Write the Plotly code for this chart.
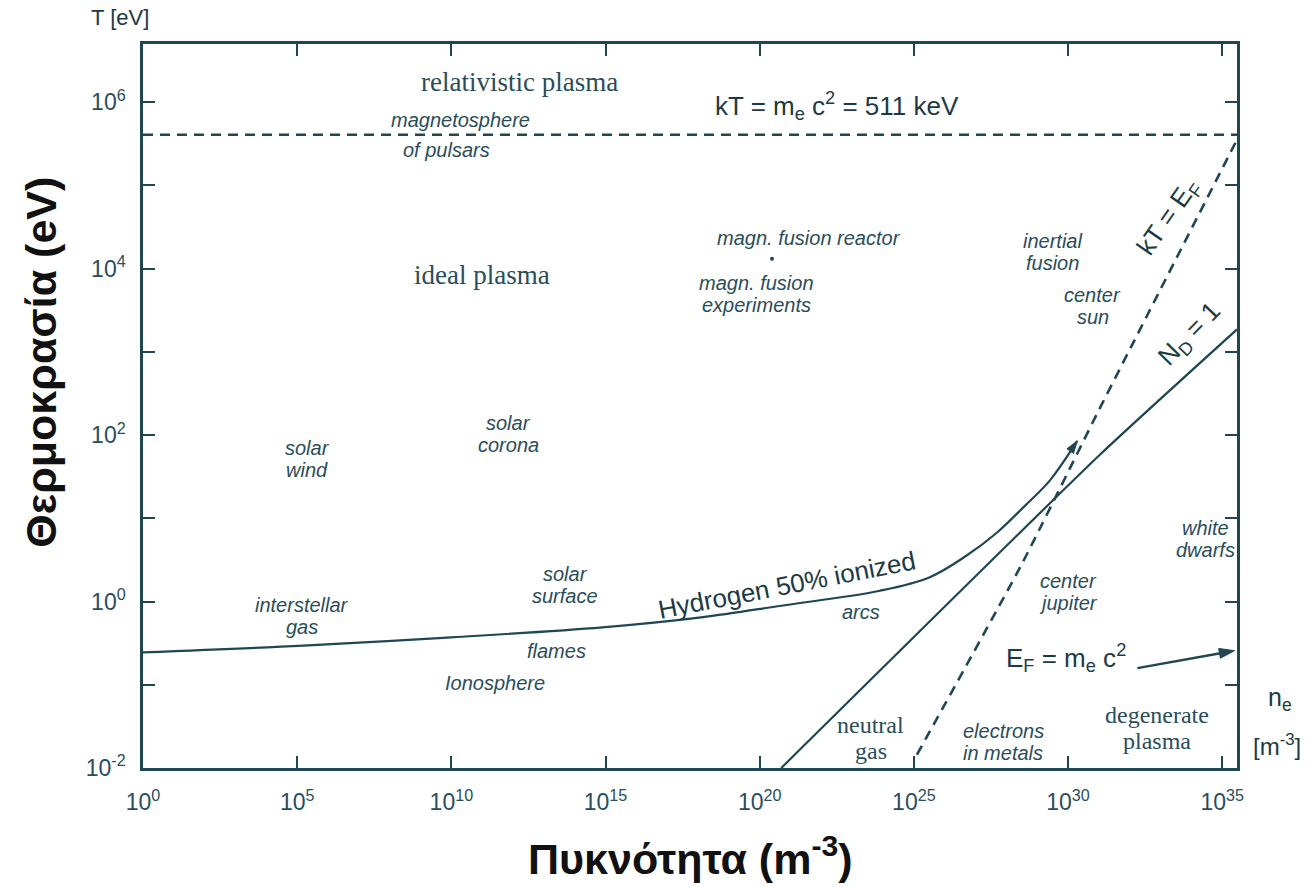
import plotly.graph_objects as go

# ---------------- data (log10 values) ----------------
# Hydrogen 50% ionized curve
h_log_n = [0.0, 5.2, 10.0, 14.9, 18.1, 20.7, 23.9, 25.5, 26.7, 27.7, 28.6, 29.4, 30.3]
h_log_T = [-0.61, -0.53, -0.43, -0.31, -0.19, -0.05, 0.13, 0.29, 0.55, 0.83, 1.15, 1.45, 1.93]

# N_D = 1 line
nd_log_n = [20.7, 31.05, 35.48]
nd_log_T = [-2.0, 1.77, 3.27]

# kT = E_F line (dashed)
ef_log_n = [25.1, 28.5, 31.0, 32.1, 35.48]
ef_log_T = [-1.84, 0.45, 2.3, 3.1, 5.55]

# kT = m_e c^2 (dashed horizontal)
rel_log_T = 5.61
x_log_range = [0.0, 35.48]
y_log_range = [-2.0, 6.7]

# E_F = m_e c^2 arrow (tail -> head)
arrow_log_n = [32.25, 35.4]
arrow_log_T = [-0.80, -0.59]

# magnetic fusion reactor point
mfr_log_n = 20.4
mfr_log_T = 4.12

# tick labels
x_tick_exp = [0, 5, 10, 15, 20, 25, 30, 35]
y_tick_exp = [-2, 0, 2, 4, 6]
y_minor_exp = [-1, 1, 3, 5]

# region labels: (lines, log n, log T, style, angle)
labels = [
    (["relativistic plasma"], 12.2, 6.24, "serif", 0),
    (["kT = m<sub>e</sub> c<sup>2</sup> = 511 keV"], 22.5, 5.96, "sans", 0),
    (["<i>magnetosphere</i>"], 10.3, 5.79, "ital", 0),
    (["<i>of pulsars</i>"], 9.85, 5.43, "ital", 0),
    (["ideal plasma"], 11.0, 3.93, "serif", 0),
    (["<i>magn. fusion reactor</i>"], 21.6, 4.37, "ital", 0),
    (["<i>magn. fusion</i>", "<i>experiments</i>"], 19.9, 3.69, "ital", 0),
    (["<i>inertial</i>", "<i>fusion</i>"], 29.5, 4.2, "ital", 0),
    (["<i>center</i>", "<i>sun</i>"], 30.8, 3.55, "ital", 0),
    (["<i>solar</i>", "<i>wind</i>"], 5.33, 1.71, "ital", 0),
    (["<i>solar</i>", "<i>corona</i>"], 11.86, 2.01, "ital", 0),
    (["<i>interstellar</i>", "<i>gas</i>"], 5.16, -0.17, "ital", 0),
    (["<i>solar</i>", "<i>surface</i>"], 13.7, 0.2, "ital", 0),
    (["<i>flames</i>"], 13.4, -0.59, "ital", 0),
    (["<i>Ionosphere</i>"], 11.4, -0.98, "ital", 0),
    (["<i>arcs</i>"], 23.3, -0.13, "ital", 0),
    (["neutral", "gas"], 23.6, -1.64, "serif2", 0),
    (["<i>electrons</i>", "<i>in metals</i>"], 27.9, -1.69, "ital", 0),
    (["<i>center</i>", "<i>jupiter</i>"], 30.0, 0.11, "ital", 0),
    (["<i>white</i>", "<i>dwarfs</i>"], 34.45, 0.75, "ital", 0),
    (["degenerate", "plasma"], 32.9, -1.52, "serif2", 0),
    (["Hydrogen 50% ionized"], 20.9, 0.2, "sans", -11),
    (["E<sub>F</sub> = m<sub>e</sub> c<sup>2</sup>"], 29.95, -0.68, "sans", 0),
    (["kT = E<sub>F</sub>"], 33.25, 4.62, "sans", -55),
    (["N<sub>D</sub> = 1"], 33.96, 3.21, "sans", -46),
]

LINE = "#1f4653"
TXT = "#2a4d5b"
DARK = "#1c3a45"
SANS = "Liberation Sans, Arial, sans-serif"
SERIF = "Liberation Serif, Times New Roman, serif"


def p10(v):
    return 10.0 ** float(v)


fig = go.Figure()

n_h = len(h_log_n)
fig.add_trace(go.Scatter(x=[p10(v) for v in h_log_n], y=[p10(v) for v in h_log_T],
                         mode="lines+markers",
                         line=dict(color=LINE, width=2.2, shape="spline", smoothing=1.0),
                         marker=dict(symbol="arrow", angleref="previous", color=LINE, opacity=1,
                                     line=dict(color=LINE, width=1),
                                     size=[0] * (n_h - 1) + [13]),
                         showlegend=False, hoverinfo="skip"))
fig.add_trace(go.Scatter(x=[p10(v) for v in nd_log_n], y=[p10(v) for v in nd_log_T],
                         mode="lines", line=dict(color=LINE, width=2.2, shape="spline", smoothing=0.5),
                         showlegend=False, hoverinfo="skip"))
fig.add_trace(go.Scatter(x=[p10(v) for v in ef_log_n], y=[p10(v) for v in ef_log_T],
                         mode="lines", line=dict(color=LINE, width=2.6, dash="10px,7px", shape="spline", smoothing=0.5),
                         showlegend=False, hoverinfo="skip"))
fig.add_trace(go.Scatter(x=[p10(x_log_range[0]), p10(x_log_range[1])], y=[p10(rel_log_T), p10(rel_log_T)],
                         mode="lines", line=dict(color=LINE, width=2.6, dash="10px,7px"),
                         showlegend=False, hoverinfo="skip"))
fig.add_trace(go.Scatter(x=[p10(v) for v in arrow_log_n], y=[p10(v) for v in arrow_log_T],
                         mode="lines+markers", line=dict(color=LINE, width=2.4),
                         marker=dict(symbol="arrow", angleref="previous", color=LINE, opacity=1,
                                     line=dict(color=LINE, width=1), size=[0, 16]),
                         showlegend=False, hoverinfo="skip"))
fig.add_trace(go.Scatter(x=[p10(mfr_log_n)], y=[p10(mfr_log_T)], mode="markers",
                         marker=dict(color=LINE, size=4), showlegend=False, hoverinfo="skip"))

fonts = {
    "serif": (dict(family=SERIF, size=27, color=TXT), 27),
    "serif2": (dict(family=SERIF, size=24, color=TXT), 26),
    "sans": (dict(family=SANS, size=26, color=DARK), 28),
    "ital": (dict(family=SANS, size=20, color=TXT), 22),
}
for lines, lx, ly, style, ang in labels:
    f, lh = fonts[style]
    n = len(lines)
    for i, t in enumerate(lines):
        fig.add_annotation(x=lx, y=ly, xref="x", yref="y", text=t, showarrow=False,
                           font=f, textangle=ang, align="center",
                           xanchor="center", yanchor="middle",
                           yshift=((n - 1) / 2.0 - i) * lh)

# axis titles and outside labels
fig.add_annotation(x=0.5, y=-0.122, xref="paper", yref="paper",
                   text="<b>Πυκνότητα (m<sup>-3</sup>)</b>", showarrow=False,
                   xanchor="center", yanchor="middle",
                   font=dict(family=SANS, size=43, color="#111111"))
fig.add_annotation(x=-0.094, y=0.56, xref="paper", yref="paper",
                   text="<b>Θερμοκρασία (eV)</b>", showarrow=False, textangle=-90,
                   xanchor="center", yanchor="middle",
                   font=dict(family=SANS, size=43, color="#111111"))
fig.add_annotation(x=-0.021, y=1.037, xref="paper", yref="paper", text="T [eV]", showarrow=False,
                   xanchor="center", yanchor="middle",
                   font=dict(family=SANS, size=22, color=DARK))
fig.add_annotation(x=1.039, y=0.095, xref="paper", yref="paper", text="n<sub>e</sub>", showarrow=False,
                   xanchor="center", yanchor="middle",
                   font=dict(family=SANS, size=25, color=DARK))
fig.add_annotation(x=1.037, y=0.032, xref="paper", yref="paper", text="[m<sup>-3</sup>]", showarrow=False,
                   xanchor="center", yanchor="middle",
                   font=dict(family=SANS, size=24, color=DARK))

tickfont = dict(family=SANS, size=23, color=TXT)
fig.update_xaxes(type="log", range=x_log_range,
                 tickmode="array",
                 tickvals=[p10(e) for e in x_tick_exp],
                 ticktext=["10<sup>%d</sup>" % e for e in x_tick_exp],
                 ticks="inside", ticklen=12, tickwidth=2, tickcolor=LINE,
                 showline=True, linewidth=2.5, linecolor=LINE, mirror="ticks",
                 showgrid=False, zeroline=False, tickfont=tickfont, ticklabelstandoff=12)
fig.update_yaxes(type="log", range=y_log_range,
                 tickmode="array",
                 tickvals=[p10(e) for e in y_tick_exp],
                 ticktext=["10<sup>%d</sup>" % e for e in y_tick_exp],
                 minor=dict(tickmode="array", tickvals=[p10(e) for e in y_minor_exp],
                            ticks="inside", ticklen=12, tickwidth=2, tickcolor=LINE, showgrid=False),
                 ticks="inside", ticklen=12, tickwidth=2, tickcolor=LINE,
                 showline=True, linewidth=2.5, linecolor=LINE, mirror="ticks",
                 showgrid=False, zeroline=False, tickfont=tickfont, ticklabelstandoff=10)

fig.update_layout(width=1310, height=887, plot_bgcolor="white", paper_bgcolor="white",
                  margin=dict(l=143, r=73, t=44, b=119), showlegend=False)

fig.write_html("out.html")
